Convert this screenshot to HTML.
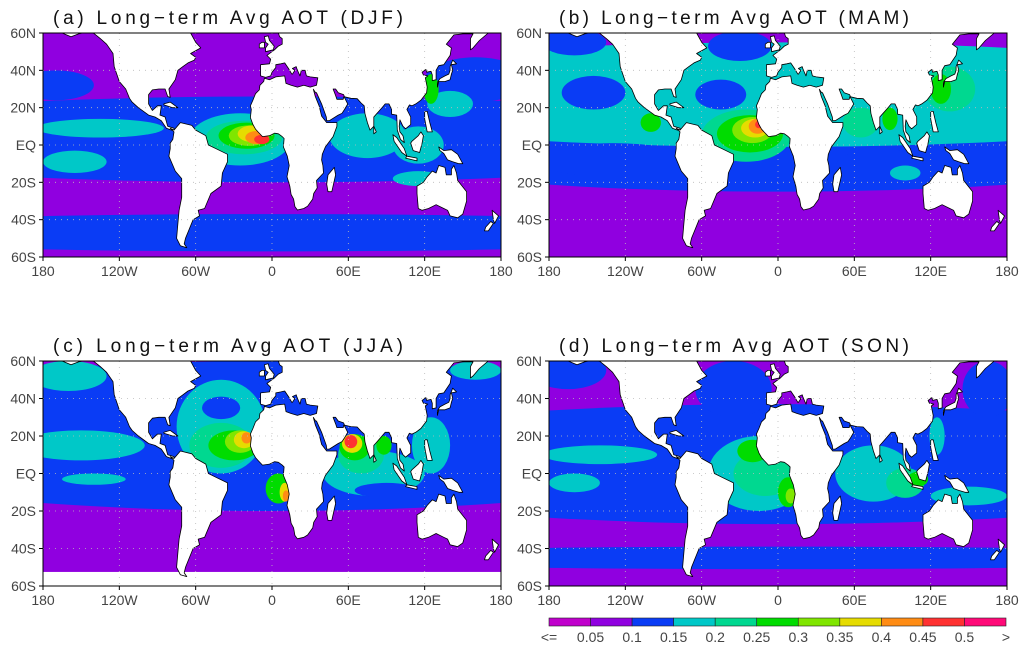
<!DOCTYPE html>
<html><head><meta charset="utf-8">
<style>
html,body{margin:0;padding:0;background:#fff;}
svg{display:block;font-family:"Liberation Sans",sans-serif;}
</style></head>
<body>
<svg id="fig" width="1024" height="649" viewBox="0 0 1024 649" xmlns="http://www.w3.org/2000/svg"></svg>
<script>
// ---- data ----
const levelLabels = ["<=","0.05","0.1","0.15","0.2","0.25","0.3","0.35","0.4","0.45","0.5",">"];
const levelColors = ["#c000cc","#9000e0","#0a3cf5","#00c8c8","#00d890","#00dc00","#80e600","#e6dc00","#ff8c14","#ff3232","#ff0a78"];
const lonTicks = [-180,-120,-60,0,60,120,180];
const lonTickLabels = ["180","120W","60W","0","60E","120E","180"];
const latTicks = [60,40,20,0,-20,-40,-60];
const latTickLabels = ["60N","40N","20N","EQ","20S","40S","60S"];
const panelTitles = ["(a) Long\u2212term Avg AOT (DJF)","(b) Long\u2212term Avg AOT (MAM)","(c) Long\u2212term Avg AOT (JJA)","(d) Long\u2212term Avg AOT (SON)"];
// AOT features: [lon, lat, lonRadius, latRadius, colour level]
const fieldDJF = [[0,-47,400,10,2],[0,3,400,23,2],[160,35,40,12,2],[-170,32,30,8,2],[-135,9,50,5,3],[-155,-9,25,6,3],
 [-25,3,40,14,3],[75,5,30,12,3],[115,0,20,10,3],[115,-18,20,4,3],[140,22,18,7,3],
 [-22,4,30,9,4],[-20,5,22,7,5],[125,30,6,8,5],[-18,5,16,5.5,6],[-15,6,12,4.5,7],[-12,4,9,3.5,8],[-8,3,6,2.5,9]];
const fieldMAM = [[0,10,400,35,2],[0,27,400,28,3],[-145,28,25,9,2],[-45,27,20,8,2],[-130,-8,60,9,2],[80,-12,35,10,2],
 [100,-15,12,4,3],[-160,55,25,7,2],[-30,53,25,8,2],
 [-25,5,35,14,4],[65,12,14,8,4],[135,30,20,12,4],[-22,6,26,10,5],[88,14,6,6,5],[128,30,8,8,5],[-100,12,8,5,5],
 [-20,8,16,7,6],[-18,9,11,5,7],[-16,10,7,4,8],[-15,11,3,2,9]];
const fieldJJA = [[0,20,400,40,2],[-150,15,50,8,3],[-160,52,30,8,3],[160,55,20,5,3],[-140,-3,25,3,3],
 [-40,25,35,25,3],[-40,35,15,6,2],[80,0,40,12,3],[90,-9,25,4,2],[125,15,15,15,3],
 [-40,15,25,12,4],[70,10,18,10,4],[-30,15,20,8,5],[5,-8,10,8,5],[65,14,12,7,5],[88,15,6,5,5],
 [-25,17,12,6,6],[-22,18,8,4.5,7],[10,-10,4,5,7],[63,16,8,5,7],[-20,19,4,3,8],[11,-12,2.5,3,8],[62,17,5,3.5,9]];
const fieldSON = [[0,5,400,32,2],[-35,45,30,15,2],[-165,55,30,10,2],[165,45,20,15,2],[0,-45,400,6,2],
 [-140,10,45,5,3],[-160,-5,20,5,3],[-15,0,40,20,3],[75,0,30,15,3],[150,-12,30,5,3],[125,20,6,10,3],
 [-10,0,25,12,4],[100,-5,15,8,4],[-20,12,12,6,5],[8,-10,8,8,5],[110,-3,8,4,5],[10,-12,4,4,6]];
const fields = [fieldDJF, fieldMAM, fieldJJA, fieldSON];
const panels = [{x:43,y:33,w:458,h:224},{x:549,y:33,w:458,h:224},{x:43,y:361,w:458,h:225},{x:549,y:361,w:458,h:225}];

// ---- land polygons (lon,lat) ----
const land = {
 "north-america":[[-165,61],[-165,60],[-158,58],[-152,59.5],[-146,60.5],[-140,59.8],[-135,57],[-130,54],[-125,49],[-124,42],[-120,34],[-115,30],[-112,25],[-110,23],[-105,20],[-97,16],[-92,15],[-87,13],[-83,9],[-79,8],[-77,8],[-77,9],[-82,10],[-84,15],[-88,16],[-87,21],[-90,21],[-94,18.5],[-97,22],[-97,27],[-94,29.5],[-89,30],[-84,30],[-82,26],[-80,25.5],[-81,30],[-76,35],[-74,40],[-70,42],[-66,44],[-61,45.5],[-60,47],[-64,49],[-56,52],[-60,55],[-64,60],[-64,61]],
 "south-america":[[-80,9],[-77,8],[-72,12],[-63,10.5],[-60,8],[-52,5],[-50,0],[-44,-2],[-35,-5],[-35,-9],[-39,-15],[-40,-22],[-48,-26],[-53,-34],[-58,-35],[-57,-38],[-62,-40],[-65,-45],[-68,-50],[-69,-53],[-67,-55],[-72,-54],[-75,-50],[-74,-42],[-73,-35],[-71,-28],[-71,-18],[-76,-14],[-81,-6],[-80,-2],[-80,1],[-78,3],[-77,7]],
 "afro-eurasia":[[170,61],[170,60],[163,56],[158,52],[156,51],[156,57],[158,59.5],[150,59.5],[143,59],[137,54],[141,52],[140,48],[135,43],[131,42.5],[129,40],[129,35],[126,34.5],[126,37.5],[125,39.5],[121.5,39],[121,40.5],[118,39],[119,37.5],[122.5,37],[120.5,36],[122,31],[121.5,28],[117,24],[113,22],[110,21],[108,21.5],[106,19],[109,15],[109,11],[105,8.7],[103,10],[100.5,13.5],[100,10],[100.5,7],[103,5],[104,1.3],[101,3],[98.5,8],[98,16],[94,16.5],[94,19],[92,22],[89,22],[86.5,20],[82,16.5],[80,15],[80,10],[77,8],[75,12],[73,17],[72.5,21],[70,22.5],[67,24.8],[62,25],[57,25.8],[56.3,27],[52,28],[50,30],[48,30],[50,26.5],[51,24.5],[56,24.5],[56.5,26],[59.5,22],[57,19],[55,17],[52,16],[45,13],[43,13],[42.7,15],[39,22],[35,28],[34.3,28],[32.5,29.9],[34,26],[37,21],[39,15.5],[43,12],[51,12],[51,10],[48,4.5],[42,-1],[39.5,-5],[39,-8],[40,-11],[40.5,-15],[35,-19],[35.5,-23],[32.8,-26],[32,-29],[28,-32.8],[25,-34],[20,-34.8],[18,-33],[17,-29],[15,-26.5],[14,-22],[11.8,-17],[13.5,-11],[12,-6],[9,-1],[9.5,3.5],[8,4.5],[5,6],[2,6.3],[-2,5],[-7.5,4.5],[-11,7],[-13,8.5],[-15,11],[-17,14.7],[-16.3,19],[-17,21],[-15,24],[-13,27.5],[-10,29.5],[-9.5,32],[-6.5,34],[-6,35.8],[-2,35],[3,36.5],[10,37],[11,33],[15,32],[20,31],[25,32],[30,31],[35,32],[36,36],[30,36.5],[27,37],[26,40],[23,40],[22,37],[21,38.5],[19.5,41],[19,42],[16,41],[18,40],[16,38],[15.6,38],[13,41],[10,44],[7,43.5],[3,43],[3,41.5],[0,39],[-1,37],[-5,36.2],[-9,37],[-9,43],[-2,43.5],[-1,46],[-4,48],[2,51],[5,53],[8,54],[8,57],[6,58],[5,60],[5,61]],
 "britain":[[-5,50],[1,51],[1.7,53],[-2,56],[-3,58.5],[-6,58],[-5,55],[-3,54],[-5,52]],
 "ireland":[[-10,52],[-6,52],[-6,55],[-8,55],[-10,54]],
 "japan":[[130,31],[131,34],[136,34],[140,35],[141,38],[142,40],[141,43],[145,43.5],[142,45.5],[140,42],[140,40],[139,38],[136,37],[132,35.5],[130,33.5]],
 "madagascar":[[49,-12],[50,-16],[47,-25],[44,-25],[43,-21],[44,-16]],
 "australia":[[114,-22],[114,-26],[115,-34],[118,-35],[123,-34],[129,-32],[135,-34],[138,-35],[140,-38],[146,-39],[150,-37],[153,-30],[153,-25],[146,-19],[145,-15],[143,-11],[141,-13],[141,-16],[137,-16],[136,-12],[131,-11],[129,-15],[126,-14],[122,-17],[119,-20]],
 "new-guinea":[[131,-1],[135,-3],[141,-2.5],[146,-5],[150,-10],[147,-10],[142,-9],[138,-8],[135,-4.5],[132,-3]],
 "borneo":[[109,1],[111,-3],[116,-4],[118,1],[119,5],[117,7],[115,5],[110,2]],
 "sumatra":[[95,5.5],[98,4],[104,-2],[106,-6],[102,-4],[96,2]],
 "java":[[105,-7],[114,-8.5],[114,-7],[106,-6]],
 "philippines":[[120,18],[122,18],[124,12],[126,7],[122,7],[120,14]],
 "cuba":[[-85,22],[-80,23],[-74,20],[-78,20],[-85,21.5]],
 "nz-north":[[173,-35],[178,-38],[175,-42],[174,-40]],
 "nz-south":[[172,-41],[174,-42],[170,-46],[167,-46],[168,-44]],
 "sri-lanka":[[80,10],[82,7],[80,6]]
};
const blackSea = [[28,41],[28,44],[30,46],[33,46],[37,45],[41,41.5],[36,41.8],[31,41]];

const NS="http://www.w3.org/2000/svg";
const svg=document.getElementById('fig');
function mk(tag,attrs,parent){const e=document.createElementNS(NS,tag);for(const k in attrs)e.setAttribute(k,attrs[k]);(parent||svg).appendChild(e);return e;}

panels.forEach((p,i)=>{
  const xs=lon=>p.x+(lon+180)*p.w/360;
  const ys=lat=>p.y+(60-lat)*p.h/120;
  const g=mk('g',{});
  
  
  const cp=mk('clipPath',{id:'clip'+i},g);
  mk('rect',{x:p.x,y:p.y,width:p.w,height:p.h},cp);
  const field=mk('g',{'clip-path':'url(#clip'+i+')'},g);
  
  
  mk('rect',{x:p.x,y:p.y,width:p.w,height:p.h,fill:levelColors[1]},field);
  fields[i].forEach(f=>{
    const e=mk('ellipse',{cx:xs(f[0]),cy:ys(f[1]),rx:f[2]*p.w/360,ry:f[3]*p.h/120,fill:levelColors[f[4]]},field);
    
    
  });
  if(i===2){
    const nd=mk('rect',{x:p.x,y:ys(-52.5),width:p.w,height:ys(-60)-ys(-52.5),fill:'#fff'},field);
    
    
  }
  const toPath=pts=>'M'+pts.map(q=>xs(q[0]).toFixed(1)+','+ys(q[1]).toFixed(1)).join('L')+'Z';
  mk('path',{d:toPath(blackSea),fill:levelColors[2],stroke:'#000','stroke-width':0.7},field);
  for(const k in land){
    const lp=mk('path',{d:toPath(land[k]),fill:'#fff',stroke:'#000','stroke-width':0.8,'stroke-linejoin':'round'},field);
    
    
  }
  lonTicks.slice(1,-1).forEach(l=>mk('line',{x1:xs(l),y1:p.y,x2:xs(l),y2:p.y+p.h,stroke:'#bbb','stroke-width':0.8,'stroke-dasharray':'1,5'},field));
  latTicks.slice(1,-1).forEach(l=>mk('line',{x1:p.x,y1:ys(l),x2:p.x+p.w,y2:ys(l),stroke:'#bbb','stroke-width':0.8,'stroke-dasharray':'1,5'},field));
  const fr=mk('rect',{x:p.x,y:p.y,width:p.w,height:p.h,fill:'none',stroke:'#000','stroke-width':1},g);
  
  
  lonTicks.forEach((l,j)=>{
    mk('line',{x1:xs(l),y1:p.y+p.h,x2:xs(l),y2:p.y+p.h+4,stroke:'#000'},g);
    const t=mk('text',{x:xs(l),y:p.y+p.h+19,'font-size':14,'text-anchor':'middle',fill:'#444'},g);
    t.textContent=lonTickLabels[j];
    
    
  });
  latTicks.forEach((l,j)=>{
    mk('line',{x1:p.x-4,y1:ys(l),x2:p.x,y2:ys(l),stroke:'#000'},g);
    const t=mk('text',{x:p.x-7,y:ys(l)+5,'font-size':14,'text-anchor':'end',fill:'#444'},g);
    t.textContent=latTickLabels[j];
    
    
  });
  const tt=mk('text',{x:p.x+10,y:p.y-9,'font-size':19,fill:'#111',textLength:350,lengthAdjust:'spacing'},g);
  tt.textContent=panelTitles[i];
  
  
});

// colorbar
const cb=mk('g',{});


const cbx=549, cbw=457, cby=618, cbh=8, n=levelColors.length, bw=cbw/n;
levelColors.forEach((c,k)=>{
  const r=mk('rect',{x:cbx+k*bw,y:cby,width:bw,height:cbh,fill:c,stroke:'#222','stroke-width':0.6},cb);
  
  
});
levelLabels.forEach((s,k)=>{
  const t=mk('text',{x:cbx+k*bw,y:642,'font-size':14,'text-anchor':'middle',fill:'#444'},cb);
  t.textContent=s;
  
  
});
</script>
</body></html>
